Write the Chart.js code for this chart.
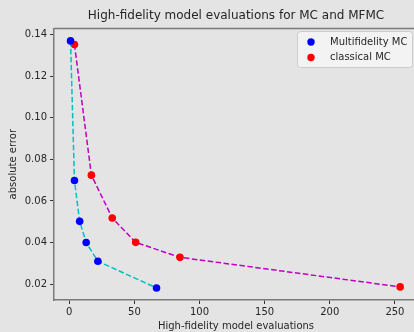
<!DOCTYPE html>
<html>
<head>
<meta charset="utf-8">
<script src="https://cdn.jsdelivr.net/npm/chart.js@4/dist/chart.umd.min.js"></script>
<style>
  html, body { margin: 0; padding: 0; background: #e4e4e4; overflow: hidden; }
  #wrap { width: 424px; height: 332px; }
</style>
</head>
<body>
<div id="wrap"><canvas id="c"></canvas></div>
<script>
const mfmcEvals = [1, 4, 8, 13, 22, 67];
const mfmcError = [0.1369, 0.0698, 0.0502, 0.0400, 0.0310, 0.0182];
const mcEvals = [4, 17, 33, 51, 85, 254];
const mcError = [0.1352, 0.0724, 0.0518, 0.0401, 0.0329, 0.0187];
const xTicks = [0, 50, 100, 150, 200, 250];
const yTicks = [0.02, 0.04, 0.06, 0.08, 0.10, 0.12, 0.14];

const FONT = 'DejaVu Sans';
const TXT = '#262626';

// legend box + top spine, matplotlib style
const extras = {
  id: 'extras',
  afterDraw(chart) {
    const ctx = chart.ctx, a = chart.chartArea;
    ctx.save();
    ctx.strokeStyle = '#7a7a7a';
    ctx.lineWidth = 1.5;
    ctx.beginPath();
    ctx.moveTo(a.left, a.top);
    ctx.lineTo(a.right + 10, a.top);
    ctx.stroke();

    const bx = 297, by = 31, bw = 115, bh = 36;
    ctx.fillStyle = 'rgba(244,244,244,0.9)';
    ctx.strokeStyle = '#cccccc';
    ctx.lineWidth = 1;
    ctx.beginPath();
    ctx.roundRect(bx + 0.5, by + 0.5, bw, bh, 3);
    ctx.fill();
    ctx.stroke();
    ctx.font = '10px ' + FONT;
    ctx.textBaseline = 'middle';
    chart.data.datasets.forEach((ds, i) => {
      const y = by + 11 + i * 15.5;
      ctx.fillStyle = ds.pointBackgroundColor;
      ctx.beginPath();
      ctx.arc(bx + 14, y, 3.7, 0, Math.PI * 2);
      ctx.fill();
      ctx.fillStyle = TXT;
      ctx.fillText(ds.label, bx + 33, y);
    });
    ctx.restore();
  }
};

new Chart(document.getElementById('c'), {
  type: 'line',
  data: {
    datasets: [
      {
        label: 'Multifidelity MC',
        data: mfmcEvals.map((x, i) => ({ x, y: mfmcError[i] })),
        borderColor: '#00bfbf',
        borderDash: [5.5, 2.5],
        borderWidth: 1.5,
        pointBackgroundColor: '#0000ff',
        pointBorderColor: '#0000ff',
        pointRadius: 3.8,
        pointBorderWidth: 0,
        tension: 0
      },
      {
        label: 'classical MC',
        data: mcEvals.map((x, i) => ({ x, y: mcError[i] })),
        borderColor: '#bf00bf',
        borderDash: [5.5, 2.5],
        borderWidth: 1.5,
        pointBackgroundColor: '#ff0000',
        pointBorderColor: '#ff0000',
        pointRadius: 3.8,
        pointBorderWidth: 0,
        tension: 0
      }
    ]
  },
  options: {
    responsive: true,
    maintainAspectRatio: false,
    animation: false,
    layout: { padding: { left: 0, right: 6, top: 0, bottom: 0 } },
    plugins: {
      legend: { display: false },
      tooltip: { enabled: false },
      title: {
        display: true,
        fullSize: false,
        text: 'High-fidelity model evaluations for MC and MFMC',
        color: TXT,
        font: { family: FONT, size: 12, weight: 'normal' },
        padding: { top: 9, bottom: 5 }
      }
    },
    scales: {
      x: {
        type: 'linear',
        min: -11.7,
        max: 267.7,
        afterBuildTicks: s => { s.ticks = xTicks.map(v => ({ value: v })); },
        afterFit: s => { s.height = 32; },
        grid: { drawOnChartArea: false, tickLength: 4, tickColor: '#333', tickWidth: 1 },
        border: { color: '#7a7a7a', width: 1.5 },
        ticks: { color: TXT, font: { family: FONT, size: 10 }, padding: 2, maxRotation: 0 },
        title: {
          display: true, text: 'High-fidelity model evaluations', color: TXT,
          font: { family: FONT, size: 10 }, padding: { top: 1, bottom: 0 }
        }
      },
      y: {
        type: 'linear',
        min: 0.0124,
        max: 0.1429,
        afterBuildTicks: s => { s.ticks = yTicks.map(v => ({ value: v })); },
        afterFit: s => { s.width = 54; },
        grid: { drawOnChartArea: false, tickLength: 4, tickColor: '#333', tickWidth: 1 },
        border: { color: '#7a7a7a', width: 1.5 },
        ticks: {
          color: TXT, font: { family: FONT, size: 10 }, padding: 3,
          callback: v => v.toFixed(2)
        },
        title: {
          display: true, text: 'absolute error', color: TXT,
          font: { family: FONT, size: 10 }, padding: { top: 7, bottom: 2 }
        }
      }
    }
  },
  plugins: [extras]
});
</script>
</body>
</html>
